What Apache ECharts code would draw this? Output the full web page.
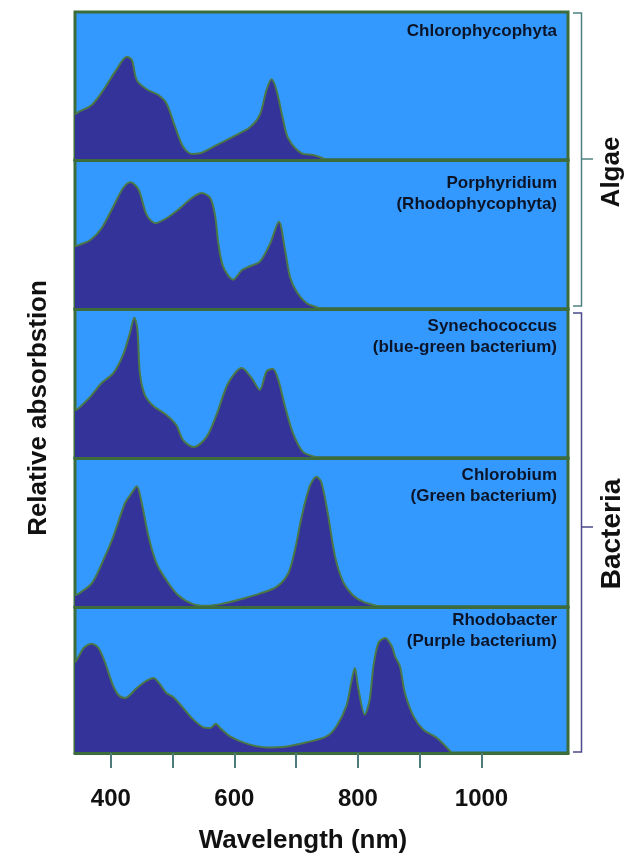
<!DOCTYPE html>
<html>
<head>
<meta charset="utf-8">
<script src="https://cdn.jsdelivr.net/npm/echarts@6/dist/echarts.min.js"></script>
<style>html,body{margin:0;padding:0;background:#fff}#c{width:638px;height:858px}</style>
</head>
<body>
<div id="c"></div>
<script>
// ---- data (wavelength nm, relative absorption 0..1 within each panel) ----
const panelNames = ['Chlorophycophyta', 'Porphyridium\n(Rhodophycophyta)', 'Synechococcus\n(blue-green bacterium)', 'Chlorobium\n(Green bacterium)', 'Rhodobacter\n(Purple bacterium)'];
const wl1 = [342, 348, 369, 388, 407, 426, 434, 442, 458, 477, 490, 504, 517, 531, 544, 571, 598, 625, 641, 652, 660, 668, 679, 687, 709, 728, 750];
const v1  = [0.31, 0.326, 0.372, 0.473, 0.597, 0.698, 0.676, 0.54, 0.478, 0.439, 0.383, 0.225, 0.09, 0.041, 0.045, 0.101, 0.158, 0.221, 0.304, 0.473, 0.545, 0.473, 0.27, 0.147, 0.045, 0.034, 0];
const wl2 = [342, 348, 367, 385, 404, 420, 432, 445, 458, 472, 490, 512, 531, 547, 561, 569, 574, 582, 598, 612, 625, 641, 658, 672, 682, 690, 701, 717, 733, 742];
const v2  = [0.42, 0.429, 0.463, 0.542, 0.688, 0.812, 0.85, 0.80, 0.632, 0.576, 0.609, 0.677, 0.745, 0.778, 0.745, 0.62, 0.44, 0.282, 0.197, 0.26, 0.287, 0.316, 0.44, 0.586, 0.395, 0.215, 0.114, 0.039, 0.012, 0];
const wl3 = [342, 348, 367, 385, 404, 420, 431, 438, 443, 447, 455, 469, 490, 506, 517, 534, 555, 571, 590, 612, 628, 641, 652, 662, 671, 682, 695, 711, 728, 740];
const v3  = [0.32, 0.334, 0.412, 0.503, 0.57, 0.694, 0.84, 0.942, 0.863, 0.57, 0.424, 0.349, 0.289, 0.221, 0.12, 0.074, 0.142, 0.289, 0.503, 0.604, 0.536, 0.457, 0.581, 0.599, 0.525, 0.345, 0.165, 0.041, 0.011, 0];
const wl4 = [342, 348, 369, 388, 404, 423, 434, 442, 450, 461, 474, 490, 509, 534, 555, 582, 604, 641, 668, 687, 698, 709, 722, 733, 741, 752, 763, 776, 792, 809, 828, 842];
const v4  = [0.08, 0.09, 0.158, 0.316, 0.473, 0.698, 0.766, 0.811, 0.698, 0.473, 0.293, 0.18, 0.079, 0.018, 0.009, 0.023, 0.045, 0.09, 0.135, 0.225, 0.383, 0.608, 0.811, 0.874, 0.834, 0.608, 0.338, 0.169, 0.079, 0.034, 0.011, 0];
const wl5 = [342, 348, 356, 369, 380, 391, 402, 412, 423, 442, 458, 469, 480, 490, 501, 515, 531, 550, 561, 570, 577, 593, 620, 652, 685, 717, 749, 765, 781, 789, 795, 800, 811, 819, 825, 833, 844, 855, 860, 868, 876, 890, 906, 928, 952];
const v5  = [0.62, 0.662, 0.719, 0.749, 0.719, 0.616, 0.479, 0.399, 0.377, 0.445, 0.495, 0.514, 0.468, 0.411, 0.384, 0.319, 0.24, 0.176, 0.171, 0.201, 0.171, 0.114, 0.064, 0.038, 0.045, 0.073, 0.114, 0.182, 0.319, 0.479, 0.582, 0.456, 0.262, 0.365, 0.593, 0.753, 0.788, 0.73, 0.662, 0.593, 0.411, 0.251, 0.16, 0.103, 0];
const tickValues = [400, 500, 600, 700, 800, 900, 1000];
const tickLabels = [400, 600, 800, 1000];
const xMin = 342, xMax = 1140;

// ---- styles / layout ----
const BLUE = '#3399ff', FILL = '#333399', GREEN = '#3c6b3c', LINE = '#4b7846', TXT = '#0c1428';
const FONT = "'Liberation Sans', Arial, sans-serif";
const tops = [12, 160, 309, 458, 607];
const heights = [148, 149, 149, 149, 146];
const labelY = [31, 183, 326, 475, 620];
const wls = [wl1, wl2, wl3, wl4, wl5];
const vals = [v1, v2, v3, v4, v5];

const grid = [], xAxis = [], yAxis = [], series = [];
for (let i = 0; i < 5; i++) {
  const last = i === 4;
  grid.push({left: 75, width: 493, top: tops[i], height: heights[i], show: true,
    backgroundColor: BLUE, borderColor: GREEN, borderWidth: 3});
  xAxis.push({type: 'value', gridIndex: i, min: xMin, max: xMax, z: 10,
    axisLine: {show: true, lineStyle: {color: GREEN, width: 3}},
    axisTick: {show: last, length: 15, customValues: tickValues, lineStyle: {color: '#4e7c7c', width: 2}},
    axisLabel: {show: last, customValues: tickLabels, margin: 34, fontSize: 24, fontWeight: 'bold', color: '#111', fontFamily: FONT,
      formatter: v => String(v)},
    splitLine: {show: false}});
  yAxis.push({type: 'value', gridIndex: i, min: 0, max: 1, show: false, splitLine: {show: false}});
  series.push({type: 'line', xAxisIndex: i, yAxisIndex: i, smooth: 0.3, showSymbol: false, silent: true,
    data: wls[i].map((w, k) => [w, vals[i][k]]),
    lineStyle: {color: LINE, width: 2}, areaStyle: {color: FILL, opacity: 1}});
}

const graphic = [];
panelNames.forEach((t, i) => {
  graphic.push({type: 'text', x: 557, y: labelY[i] - 10, z: 20,
    style: {text: t, font: "bold 17px " + FONT, fill: TXT, align: 'right', textAlign: 'right', verticalAlign: 'top', textVerticalAlign: 'top', lineHeight: 21}});
});
function txt(t, x, y, size, rot) {
  return {type: 'text', x: x, y: y, rotation: rot || 0, z: 20,
    style: {text: t, font: "bold " + size + "px " + FONT, fill: '#111', align: 'center', textAlign: 'center', verticalAlign: 'middle', textVerticalAlign: 'middle'}};
}
graphic.push(txt('Relative absorbstion', 39, 408, 26, Math.PI / 2));
graphic.push(txt('Wavelength (nm)', 303, 841, 26, 0));
graphic.push(txt('Algae', 612, 172, 26, Math.PI / 2));
graphic.push(txt('Bacteria', 612, 534, 28, Math.PI / 2));
function bracket(y0, y1, ym, color) {
  const st = {stroke: color, lineWidth: 1.5, fill: 'none'};
  return [
    {type: 'polyline', shape: {points: [[573, y0], [581.5, y0], [581.5, y1], [573, y1]]}, style: st, z: 20},
    {type: 'line', shape: {x1: 581.5, y1: ym, x2: 593, y2: ym}, style: st, z: 20}
  ];
}
graphic.push(...bracket(13, 306, 159, '#4f8080'));
graphic.push(...bracket(313, 752, 527, '#4a4a8c'));

const chart = echarts.init(document.getElementById('c'), null, {renderer: 'canvas'});
chart.setOption({animation: false, grid, xAxis, yAxis, series, graphic});
</script>
</body>
</html>
